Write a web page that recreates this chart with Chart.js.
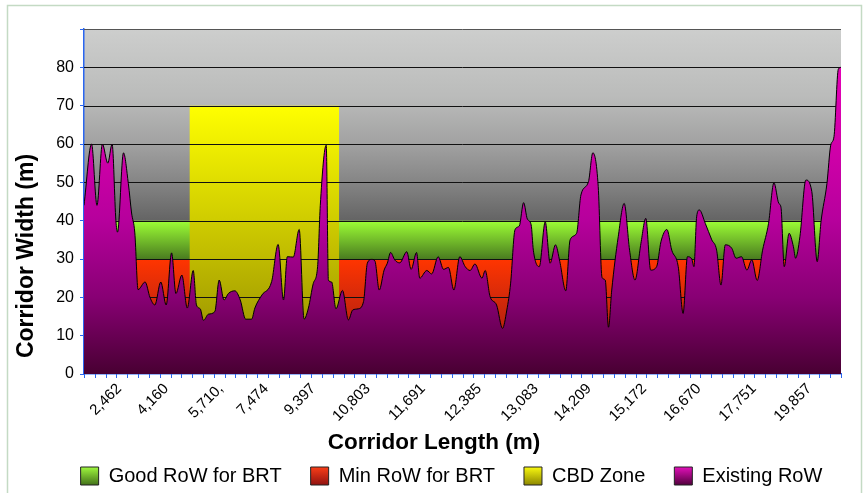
<!DOCTYPE html>
<html><head><meta charset="utf-8">
<script src="https://cdn.jsdelivr.net/npm/chart.js@4/dist/chart.umd.min.js"></script>
<style>html,body{margin:0;padding:0;background:#fff;overflow:hidden}</style>
</head><body>
<canvas id="c" width="865" height="493"></canvas>
<script>
// Positions along the corridor (category-axis station index, 0 = start, 140 = end)
const stations = [0,1.4,2.4,3.4,4.4,5.2,5.9,6.2,7.3,8.2,
  8.8,9.4,10.0,11.3,12.2,13.1,14.2,15.2,16.2,17.0,
  18.1,19.1,20.2,20.8,21.5,22.1,23.0,24.2,25.0,25.9,
  26.7,27.9,28.9,29.9,31.0,31.6,32.9,34.7,35.9,36.9,
  37.6,38.7,39.8,40.7,41.5,42.4,43.2,43.7,44.8,45.2,
  45.8,46.6,47.8,48.9,49.7,50.7,51.7,52.4,53.2,53.8,
  54.6,55.5,56.1,56.7,57.5,58.4,59.7,60.5,61.5,62.1,
  63.4,64.3,65.5,66.5,67.4,68.4,69.5,70.5,71.4,72.3,
  73.6,74.2,75.1,76.3,77.4,78.2,78.9,79.7,80.5,81.3,
  82.0,82.7,83.1,84.2,85.3,86.2,87.2,88.0,89.1,89.9,
  91.1,91.9,93.3,94.1,95.1,95.8,96.4,97.0,97.6,98.8,
  99.9,100.9,101.9,103.0,103.9,104.8,105.9,106.7,107.8,108.7,
  109.9,110.8,111.6,112.4,112.8,113.3,113.8,114.9,116.1,117.0,
  117.8,118.6,119.8,120.6,121.6,122.6,123.5,124.5,125.5,126.6,
  127.6,128.5,128.9,129.5,130.4,131.2,131.6,132.4,133.5,134.6,
  135.6,136.3,137.4,138.1,138.7,139.5,140];
// Existing right-of-way width (m)
const existingRow = [44,60,44,60,55,60,40,37,57.7,49.7,
  42,36.8,22,24,20,18,24,18,31.6,21,
  25.8,17.2,27,18,17,14,15.6,16.3,24.5,19.3,
  21,21.7,19.3,14.3,14.3,17.2,20.6,24.1,33.8,19.3,
  30.6,30.5,37.7,14.3,17.2,23.6,28,44,59.7,24.5,
  24,17,21.8,14.1,16.7,17,18.9,28.9,29.9,29.5,
  21.9,27.1,28.9,31.7,29.7,29,31.9,27.3,31.7,25,
  27,26.1,30.6,27.3,27.8,21.9,30.6,28,27,28.7,
  25,27,20.2,18,11.9,16.7,23.7,37.6,38.6,44.7,
  40.4,38.9,32.3,28,39.7,28.9,33.7,29.3,21.7,35,
  36.7,46.7,50.2,57.7,48.9,25.2,24.5,12.2,21.9,35.8,
  44.5,32.3,24.5,34.1,40.6,27.1,28,34.5,37.7,32.3,
  28,15.8,30.6,30,28,41,42.8,39.3,35,32.3,
  23.2,33.7,32.8,30.2,30.6,27.1,29.8,24.4,32.3,39.3,
  49.9,44.5,43.5,28,36.7,33.2,30.2,35.8,50.6,47.6,
  29.3,39.7,49.7,59.7,61.9,79.5,80];
const corridorStart = 0, corridorEnd = 140;
const goodRow = 40;          // Good RoW for BRT (m)
const minRow = 30;           // Min RoW for BRT (m)
const cbdZone = [19.5, 47.2];// CBD zone extent (stations)
const cbdHeight = 70;
const tickStations = [6.5,15.2,25.3,33.7,42.4,52.5,62.7,73.1,83.6,93.4,103.6,113.7,123.9,134.1];
const tickLabels = ['2,462','4,160','5,710,','7,474','9,397','10,803','11,691','12,385','13,083','14,209','15,172','16,670','17,751','19,857'];
const seriesNames = ['Good RoW for BRT','Min RoW for BRT','CBD Zone','Existing RoW'];
const yMax = 90, yStep = 10;

const BLUE = '#2a66f0';
const FONT = '"Liberation Sans", Arial, Helvetica, sans-serif';
Chart.defaults.font.family = FONT;
Chart.defaults.color = '#000';

function vGrad(chart, stops) {
  const y = chart.scales.y, ctx = chart.ctx;
  const t = y.getPixelForValue(stops[0][0]);
  const b = y.getPixelForValue(stops[stops.length - 1][0]);
  const g = ctx.createLinearGradient(0, t, 0, b);
  stops.forEach(([v, c]) => g.addColorStop(Math.min(1, Math.max(0, (y.getPixelForValue(v) - t) / (b - t))), c));
  return g;
}
const gradStops = [
  [[40,'#9dff35'],[30,'#4a7c20'],[0,'#2a4a10']],
  [[30,'#ff3500'],[20,'#d62a0a'],[0,'#8e1410']],
  [[70,'#ffff00'],[40,'#cfcc00'],[20,'#aea800'],[0,'#888200']],
  [[80,'#e400b6'],[60,'#d200aa'],[40,'#b6009c'],[20,'#880074'],[0,'#480032']]
];
const legendStops = [
  ['#a4ff40','#3e6a18'], ['#ff4018','#8a1010'], ['#ffff10','#868000'], ['#ea10c0','#4a0036']
];
function bg(i, solid) {
  return (c) => c.chart.chartArea && c.chart.scales.y ? vGrad(c.chart, gradStops[i]) : solid;
}

const LEG_DX = 31, LEG_DY = 3;

const decor = {
  id: 'decor',
  afterLayout(chart) {
    const l = chart.legend;
    if (l) { l.left += LEG_DX; l.right += LEG_DX; l.top += LEG_DY; l.bottom += LEG_DY; }
  },
  beforeDraw(chart) {
    const ctx = chart.ctx, a = chart.chartArea;
    ctx.save();
    ctx.fillStyle = '#fff';
    ctx.fillRect(0, 0, chart.width, chart.height);
    ctx.strokeStyle = '#c4dac4';
    ctx.lineWidth = 1.5;
    ctx.strokeRect(7.5, 5.5, 854, 500);
    const g = ctx.createLinearGradient(0, a.top, 0, a.bottom);
    g.addColorStop(0, '#cdcecd');
    g.addColorStop(0.2, '#babbba');
    g.addColorStop(0.33, '#a2a2a2');
    g.addColorStop(0.44, '#868686');
    g.addColorStop(0.555, '#646464');
    g.addColorStop(1, '#2e2e2e');
    ctx.fillStyle = g;
    ctx.fillRect(a.left, a.top, a.right - a.left, a.bottom - a.top);
    ctx.restore();
    // legend swatches with vertical gradients
    const l = chart.legend;
    if (l && l.legendItems && l.legendHitBoxes) {
      l.legendItems.forEach((it, i) => {
        const hb = l.legendHitBoxes[i];
        if (!hb) return;
        const lg = ctx.createLinearGradient(0, hb.top, 0, hb.top + hb.height);
        lg.addColorStop(0, legendStops[i][0]);
        lg.addColorStop(1, legendStops[i][1]);
        it.fillStyle = lg;
      });
    }
  },
  // gridlines: above the reference bands, below the Existing RoW area
  afterDatasetDraw(chart, args) {
    if (args.index !== 2) return;
    const ctx = chart.ctx, a = chart.chartArea, y = chart.scales.y;
    ctx.save();
    ctx.lineWidth = 1;
    for (let v = yStep; v < yMax; v += yStep) {
      const py = Math.round(y.getPixelForValue(v)) + 0.5;
      ctx.strokeStyle = '#111';
      ctx.beginPath(); ctx.moveTo(a.left, py); ctx.lineTo(a.right, py); ctx.stroke();
    }
    const pt = Math.round(y.getPixelForValue(yMax)) + 0.5;
    ctx.strokeStyle = '#555';
    ctx.beginPath(); ctx.moveTo(a.left, pt); ctx.lineTo(a.right, pt); ctx.stroke();
    ctx.restore();
  },
  afterDraw(chart) {
    const ctx = chart.ctx, a = chart.chartArea, x = chart.scales.x;
    ctx.save();
    // minor tick marks along the category axis
    ctx.strokeStyle = BLUE; ctx.lineWidth = 1;
    for (let s = corridorStart; s <= corridorEnd; s += 2) {
      const px = Math.round(x.getPixelForValue(s)) + 0.5;
      ctx.beginPath(); ctx.moveTo(px, a.bottom); ctx.lineTo(px, a.bottom + 4); ctx.stroke();
    }
    // axis titles
    ctx.fillStyle = '#000';
    ctx.font = 'bold 22.5px ' + FONT;
    ctx.textAlign = 'center'; ctx.textBaseline = 'middle';
    ctx.fillText('Corridor Length (m)', 434, 443);
    ctx.font = 'bold 23px ' + FONT;
    ctx.translate(27, 256);
    ctx.rotate(-Math.PI / 2);
    ctx.fillText('Corridor Width (m)', 0, 0);
    ctx.restore();
  }
};

const pts = (xs, ys) => xs.map((x, i) => ({x, y: ys[i]}));

new Chart(document.getElementById('c'), {
  type: 'line',
  data: {
    datasets: [
      { label: seriesNames[0], data: pts([corridorStart, corridorEnd], [goodRow, goodRow]), order: 4,
        fill: 'origin', backgroundColor: bg(0, '#70c030'), borderColor: 'transparent', borderWidth: 0, pointRadius: 0 },
      { label: seriesNames[1], data: pts([corridorStart, corridorEnd], [minRow, minRow]), order: 3,
        fill: 'origin', backgroundColor: bg(1, '#e03010'), borderColor: 'transparent', borderWidth: 0, pointRadius: 0 },
      { label: seriesNames[2], data: pts(cbdZone, [cbdHeight, cbdHeight]), order: 2,
        fill: 'origin', backgroundColor: bg(2, '#dddd00'), borderColor: 'transparent', borderWidth: 0, pointRadius: 0 },
      { label: seriesNames[3], data: pts(stations, existingRow), order: 1,
        fill: 'origin', backgroundColor: bg(3, '#b0009a'), borderColor: '#000', borderWidth: 1, pointRadius: 0,
        tension: 0.4, cubicInterpolationMode: 'monotone' }
    ]
  },
  options: {
    responsive: false,
    animation: false,
    devicePixelRatio: 1,
    layout: { padding: { left: 0, right: 24, top: 29, bottom: 0 } },
    plugins: {
      tooltip: { enabled: false },
      title: { display: false },
      legend: {
        position: 'bottom',
        labels: {
          boxWidth: 18, boxHeight: 18, padding: 29,
          font: { size: 20 }, color: '#000',
          generateLabels: (chart) => chart.data.datasets.map((d, i) => ({
            text: d.label, fillStyle: legendStops[i][0], strokeStyle: '#222', lineWidth: 1,
            datasetIndex: i, hidden: false
          }))
        }
      }
    },
    scales: {
      x: {
        type: 'linear', min: corridorStart, max: corridorEnd, z: 1,
        afterFit: (s) => { s.height = 60; },
        afterBuildTicks: (s) => { s.ticks = tickStations.map(v => ({value: v})); },
        ticks: {
          autoSkip: false, minRotation: 45, maxRotation: 45, padding: 6,
          font: { size: 15 }, color: '#000',
          callback: (v, i) => tickLabels[i]
        },
        grid: { drawOnChartArea: false, drawTicks: false },
        border: { color: BLUE, width: 1.5 }
      },
      y: {
        min: 0, max: yMax, z: 1,
        afterFit: (s) => { s.width = 84; },
        ticks: { stepSize: yStep, padding: 6, font: { size: 16 }, color: '#000',
          callback: (v) => v === yMax ? '' : v },
        grid: { drawOnChartArea: false, drawTicks: true, tickLength: 4, tickColor: BLUE },
        border: { color: BLUE, width: 1.5 }
      }
    }
  },
  plugins: [decor]
});
</script>
</body></html>
